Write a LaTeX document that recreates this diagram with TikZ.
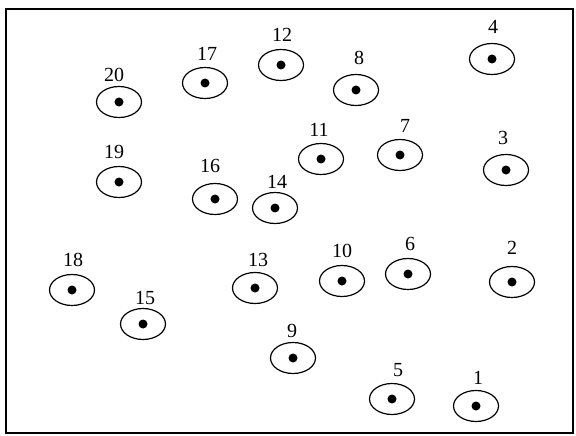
\documentclass[tikz,border=0pt]{standalone}
\usepackage{fontspec}
\usetikzlibrary{shapes.geometric}
\setmainfont{Liberation Serif}
\begin{document}
\begin{tikzpicture}[x=1pt,y=-1pt,
  site/.style={draw,ellipse,minimum width=45pt,minimum height=31pt,line width=1.2pt,inner sep=0pt},
  dotc/.style={fill,circle,minimum size=9pt,inner sep=0pt},
  lab/.style={font=\fontsize{20}{20}\selectfont,inner sep=0pt}]
\useasboundingbox (0,0) rectangle (576,436);
\draw[line width=1.4pt] (6,9) rectangle (573,433);
\draw[line width=2.6pt] (6,9) -- (6,433);
\foreach \n/\x/\y/\lx/\ly in {1/476/406/478/378, 2/512/282/512/248, 3/506/170/503/138, 4/492/59/493/27,
  5/392/399/398/370, 6/408/274/410/244, 7/400/155/405/126, 8/356/90/359/58, 9/293/358/292/331,
  10/342/281/342/251, 11/321/159/319/130, 12/281/65/282/35, 13/255/288/258/260, 14/275/208/277/182,
  15/143/324/145/298, 16/215/199/210/166, 17/205/83/207/54, 18/72/290/73/260, 19/119/182/114/152, 20/119/102/114/75}
{
  \node[site] (e\n) at (\x,\y) {};
  \node[dotc] (d\n) at (e\n.center) {};
  \node[lab] (l\n) at (\lx,\ly) {\n};
}
\end{tikzpicture}
\end{document}
